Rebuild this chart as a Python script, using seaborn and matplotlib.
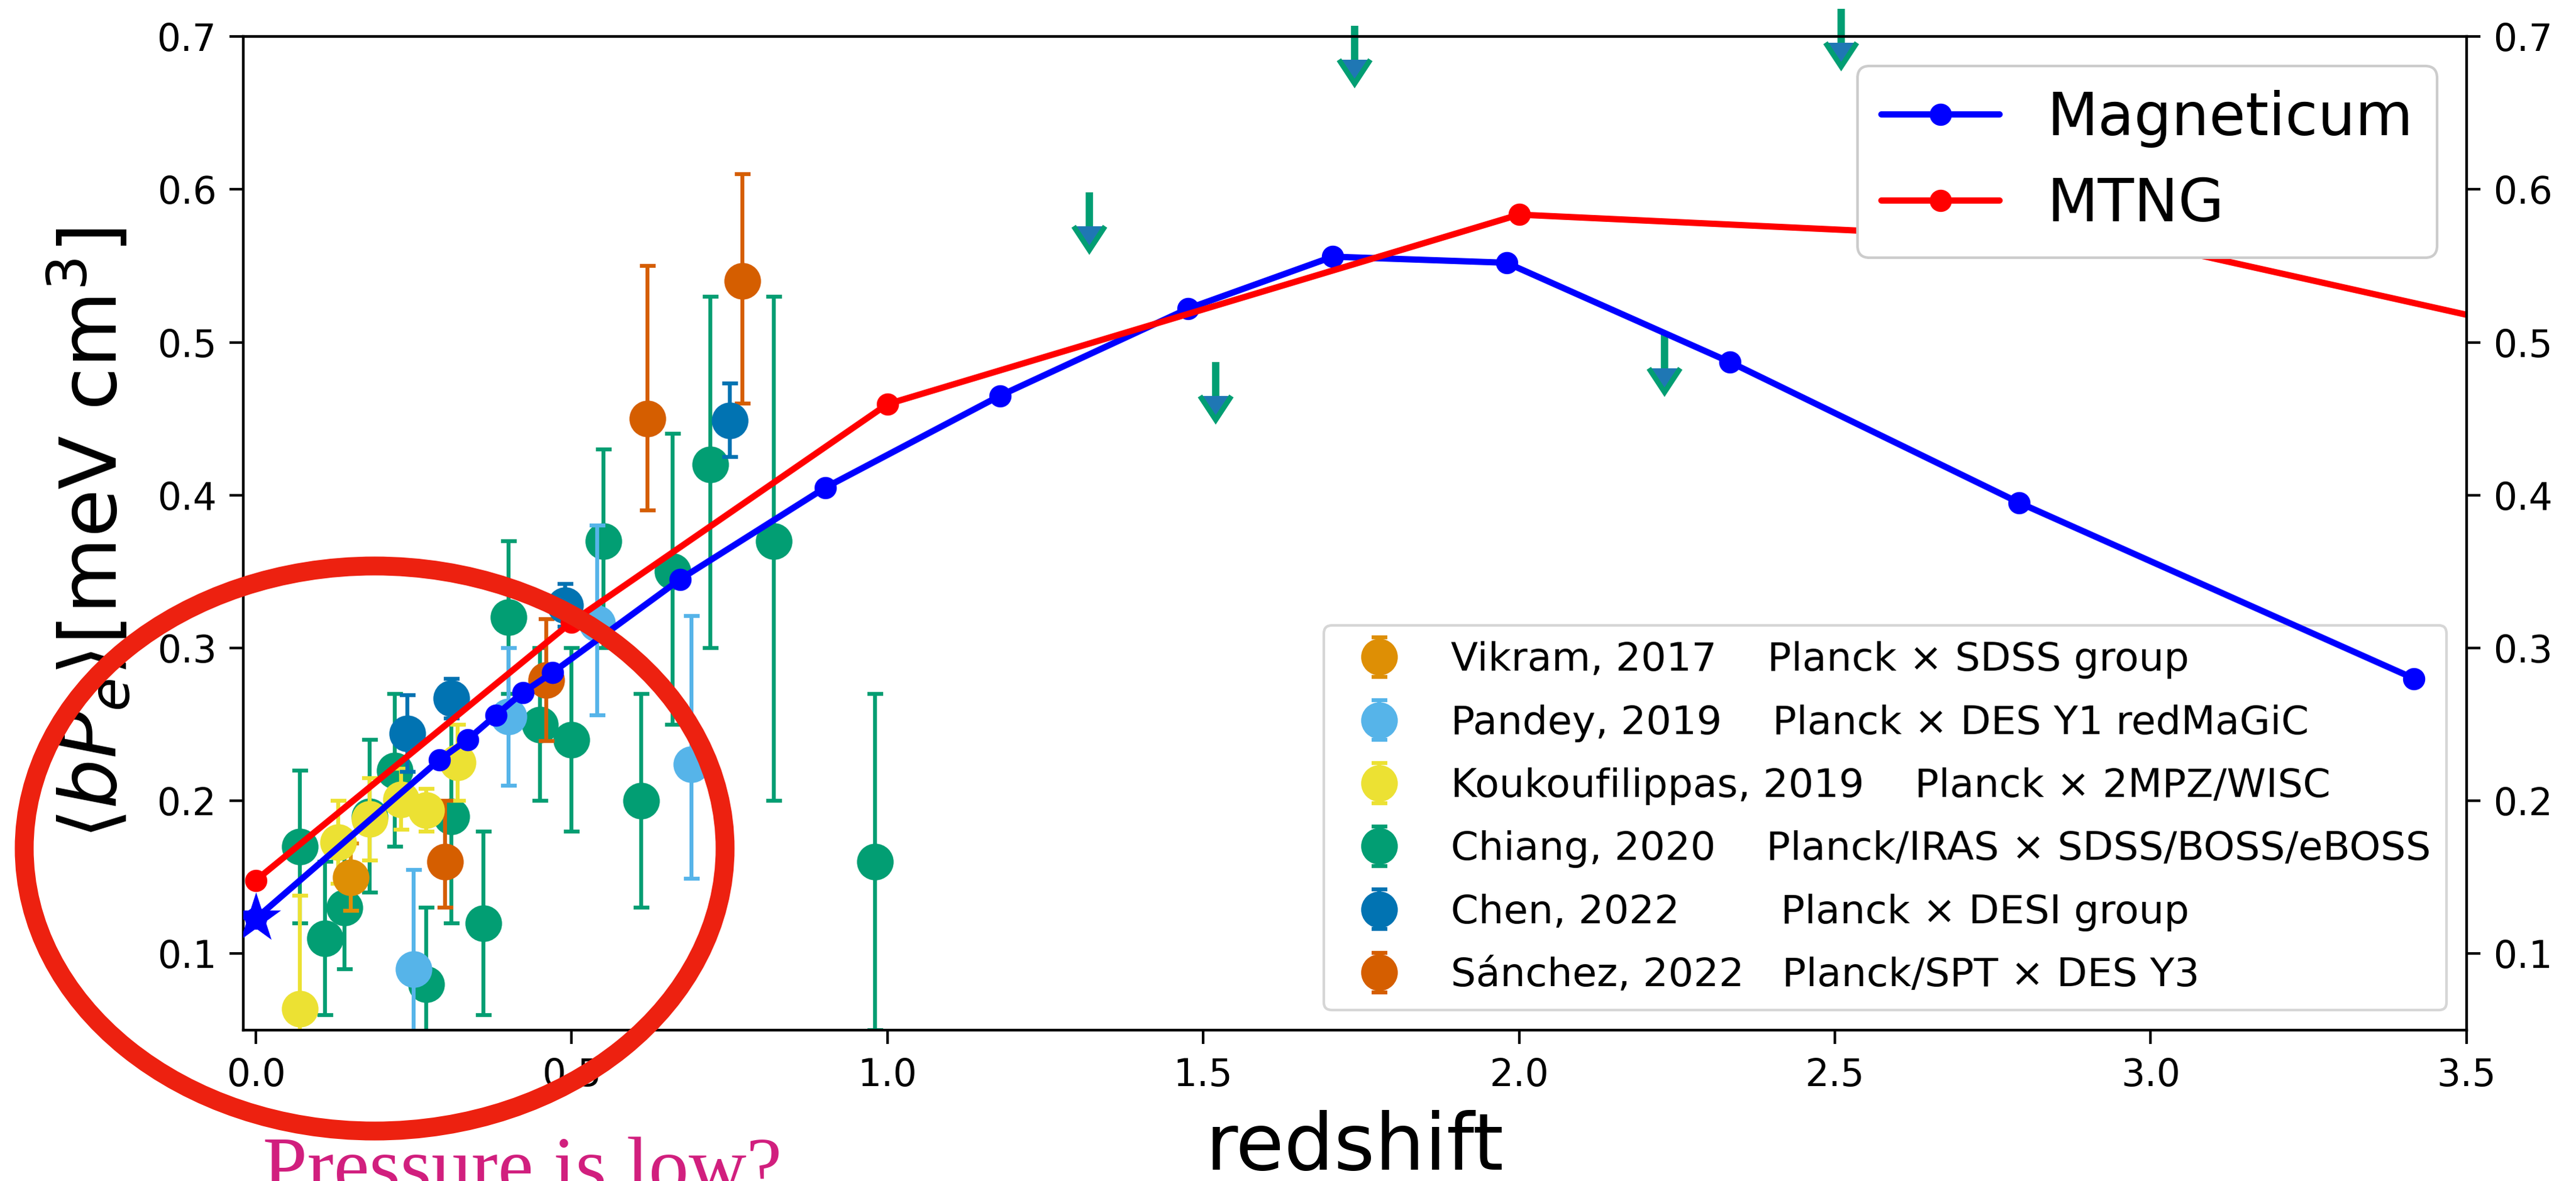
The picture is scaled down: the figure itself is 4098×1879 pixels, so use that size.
import matplotlib
matplotlib.use("Agg")
import matplotlib.pyplot as plt
from matplotlib.patches import Ellipse
import seaborn as sns

# ---------------- simulation predictions ----------------
magneticum_z = [0.0, 0.291, 0.335, 0.380, 0.423, 0.470, 0.672, 0.902, 1.178,
                1.476, 1.705, 1.980, 2.334, 2.792, 3.417]
magneticum_bpe = [0.123, 0.227, 0.240, 0.256, 0.271, 0.284, 0.345, 0.405, 0.465,
                  0.522, 0.556, 0.552, 0.487, 0.395, 0.280]
mtng_z = [0.0, 0.5, 1.0, 2.0, 3.0, 4.0]
mtng_bpe = [0.148, 0.317, 0.4595, 0.5835, 0.564, 0.472]
star_z = [0.0]
star_bpe = [0.123]

# ---------------- observational measurements ----------------
vikram_z = [0.15]
vikram_bpe = [0.150]
vikram_lo = [0.022]
vikram_hi = [0.022]

pandey_z = [0.25, 0.40, 0.54, 0.69]
pandey_bpe = [0.090, 0.255, 0.316, 0.224]
pandey_lo = [0.065, 0.045, 0.060, 0.075]
pandey_hi = [0.065, 0.045, 0.064, 0.097]

kouk_z = [0.07, 0.13, 0.18, 0.23, 0.27, 0.32]
kouk_bpe = [0.064, 0.173, 0.188, 0.201, 0.194, 0.225]
kouk_lo = [0.074, 0.027, 0.027, 0.020, 0.014, 0.025]
kouk_hi = [0.074, 0.027, 0.027, 0.020, 0.014, 0.025]

chiang_z = [0.07, 0.11, 0.14, 0.18, 0.22, 0.27, 0.31, 0.36, 0.40, 0.45, 0.50,
            0.55, 0.61, 0.66, 0.72, 0.82, 0.98]
chiang_bpe = [0.17, 0.11, 0.13, 0.19, 0.22, 0.08, 0.19, 0.12, 0.32, 0.25, 0.24,
              0.37, 0.20, 0.35, 0.42, 0.37, 0.16]
chiang_lo = [0.05, 0.05, 0.04, 0.05, 0.05, 0.05, 0.07, 0.06, 0.05, 0.05, 0.06,
             0.07, 0.07, 0.10, 0.12, 0.17, 0.11]
chiang_hi = [0.05, 0.05, 0.04, 0.05, 0.05, 0.05, 0.07, 0.06, 0.05, 0.05, 0.06,
             0.06, 0.07, 0.09, 0.11, 0.16, 0.11]
# Chiang upper limits at high redshift
chiang_ul_z = [1.32, 1.52, 1.74, 2.23, 2.51]
chiang_ul_bpe = [0.598, 0.487, 0.707, 0.505, 0.718]
chiang_ul_len = [0.022, 0.022, 0.022, 0.022, 0.022]

chen_z = [0.24, 0.31, 0.49, 0.75]
chen_bpe = [0.244, 0.267, 0.328, 0.449]
chen_lo = [0.025, 0.013, 0.014, 0.024]
chen_hi = [0.025, 0.013, 0.014, 0.024]

sanchez_z = [0.30, 0.46, 0.62, 0.77]
sanchez_bpe = [0.160, 0.279, 0.450, 0.540]
sanchez_lo = [0.030, 0.040, 0.060, 0.080]
sanchez_hi = [0.040, 0.040, 0.100, 0.070]

legend_labels = [
    "Vikram, 2017    Planck \u00d7 SDSS group",
    "Pandey, 2019    Planck \u00d7 DES Y1 redMaGiC",
    "Koukoufilippas, 2019    Planck \u00d7 2MPZ/WISC",
    "Chiang, 2020    Planck/IRAS \u00d7 SDSS/BOSS/eBOSS",
    "Chen, 2022        Planck \u00d7 DESI group",
    "S\u00e1nchez, 2022   Planck/SPT \u00d7 DES Y3",
]
x_ticks = [0.0, 0.5, 1.0, 1.5, 2.0, 2.5, 3.0, 3.5]
y_ticks = [0.1, 0.2, 0.3, 0.4, 0.5, 0.6, 0.7]

# ---------------- style ----------------
sns.set_style("ticks", rc={
    "axes.edgecolor": "black", "xtick.color": "black", "ytick.color": "black",
    "text.color": "black", "axes.labelcolor": "black",
})
plt.rcParams["font.family"] = ["DejaVu Sans"]
plt.rcParams["axes.linewidth"] = 1.0

pal = sns.color_palette("colorblind")
c_vikram, c_pandey, c_kouk = pal[1], pal[9], pal[8]
c_chiang, c_chen, c_sanchez = pal[2], pal[0], pal[3]

fig = plt.figure(figsize=(4098 / 300, 1879 / 300), dpi=300)
fig.subplots_adjust(left=0.0944, right=0.9575, bottom=0.1277, top=0.9691)
ax = fig.add_subplot(111)

eb_kw = dict(fmt="o", ms=13, elinewidth=1.5, capsize=3, capthick=1.5)

h_chiang = ax.errorbar(chiang_z, chiang_bpe, yerr=[chiang_lo, chiang_hi],
                       color=c_chiang, zorder=2, **eb_kw)
ul = ax.errorbar(chiang_ul_z, chiang_ul_bpe, yerr=chiang_ul_len, uplims=True,
                 fmt="none", ecolor=c_chiang, elinewidth=2.8, capsize=6.0,
                 capthick=2.0, clip_on=False, zorder=2)
# keep only the arrow heads of the upper limits, not the flat caps
for cap in ul.lines[1]:
    if cap.get_marker() == "_":
        cap.set_visible(False)

h_vikram = ax.errorbar(vikram_z, vikram_bpe, yerr=[vikram_lo, vikram_hi],
                       color=c_vikram, zorder=3, **eb_kw)
h_pandey = ax.errorbar(pandey_z, pandey_bpe, yerr=[pandey_lo, pandey_hi],
                       color=c_pandey, zorder=3, **eb_kw)
h_kouk = ax.errorbar(kouk_z, kouk_bpe, yerr=[kouk_lo, kouk_hi],
                     color=c_kouk, zorder=3, **eb_kw)
h_chen = ax.errorbar(chen_z, chen_bpe, yerr=[chen_lo, chen_hi],
                     color=c_chen, zorder=3, **eb_kw)
h_sanchez = ax.errorbar(sanchez_z, sanchez_bpe, yerr=[sanchez_lo, sanchez_hi],
                        color=c_sanchez, zorder=3, **eb_kw)

ax.legend([h_vikram, h_pandey, h_kouk, h_chiang, h_chen, h_sanchez],
          legend_labels, loc="lower right", fontsize=15.15, labelspacing=0.64)

ax.set_xlim(-0.02, 3.5)
ax.set_ylim(0.05, 0.7)
ax.set_xticks(x_ticks)
ax.set_yticks(y_ticks)
ax.tick_params(axis="both", labelsize=14.3, length=5.2, width=1.0, pad=5)
ax.set_xlabel("redshift", fontsize=30, labelpad=6)
ax.set_ylabel(r"$\langle bP_e\rangle$[meV cm$^3$]", fontsize=30, labelpad=9)

# simulations on a twin axis drawn above the measurements
ax2 = ax.twinx()
sns.lineplot(x=magneticum_z, y=magneticum_bpe, ax=ax2, color="blue", lw=2.4,
             marker="o", ms=8.5, markeredgecolor="blue", markeredgewidth=0,
             label="Magneticum", sort=False)
sns.lineplot(x=mtng_z, y=mtng_bpe, ax=ax2, color="red", lw=2.4,
             marker="o", ms=8.5, markeredgecolor="red", markeredgewidth=0,
             label="MTNG", sort=False)
sns.scatterplot(x=star_z, y=star_bpe, ax=ax2, marker="*", s=400, color="blue",
                edgecolor="blue", linewidth=0, zorder=5, legend=False)
ax2.set_xlim(-0.02, 3.5)
ax2.set_ylim(0.05, 0.7)
ax2.set_yticks(y_ticks)
ax2.tick_params(axis="y", labelsize=14.3, length=5.2, width=1.0, pad=5)
ax2.set_ylabel("")
ax2.legend(loc="upper right", fontsize=22.6, framealpha=1, labelspacing=0.48)

# highlight of the low-redshift region
fig.add_artist(Ellipse((0.14544, 0.28153), 0.27208, 0.47845,
                       transform=fig.transFigure, fill=False,
                       ec="#ed2110", lw=7.2, zorder=10))
fig.text(0.102, -0.0096, "Pressure is low?", fontsize=30.5,
         family="Liberation Serif", color="#d11f7e", ha="left", va="baseline")

fig.savefig("out.png", dpi=300)
